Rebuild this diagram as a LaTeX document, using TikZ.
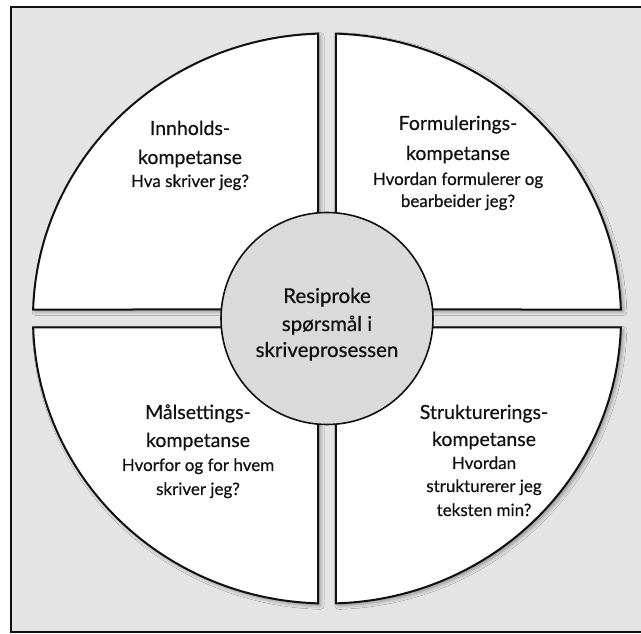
\documentclass[tikz,border=0pt]{standalone}
\usepackage{fontspec}
\setmainfont{Lato}[FakeBold=0.5]
\usetikzlibrary{shadows.blur}
\definecolor{panelgray}{HTML}{E4E4E4}
\definecolor{hubgray}{HTML}{DADADA}
\definecolor{ink}{HTML}{111111}
\tikzset{
  frame/.style={draw=ink, line width=2pt, fill=panelgray},
  quad/.style={draw=ink, line width=2pt, fill=white,
    blur shadow={shadow xshift=2.5pt, shadow yshift=-2.5pt,
                 shadow blur radius=3.5pt, shadow opacity=35}},
  hub/.style={draw=ink, line width=1.6pt, fill=hubgray, circle,
    minimum size=212pt, inner sep=0pt},
  head/.style={anchor=base, inner sep=0pt, text=ink,
    font=\fontsize{19.5}{23}\selectfont},
  ask/.style={anchor=base, inner sep=0pt, text=ink,
    font=\fontsize{17}{20}\selectfont},
  hubtext/.style={anchor=base, inner sep=0pt, text=ink,
    font=\fontsize{20.5}{24}\selectfont},
}
\begin{document}
\begin{tikzpicture}[x=1pt,y=1pt]
  \useasboundingbox (0,0) rectangle (641,633);
  \begin{scope}
    \clip (0,0) rectangle (641,633);
    \draw[frame] (10.5,1.5) rectangle (660,625.5);
  \end{scope}

  % four quarter panels of the ellipse, pulled apart by a cross-shaped gap
  \def\cx{327}\def\cy{314.5}\def\rx{294}\def\ry{285}
  \draw[quad] (336,323.5) -- ({\cx+\rx*cos(88.25)},{\cy+\ry*sin(88.25)})
    arc[start angle=88.25, end angle=1.81, x radius=\rx, y radius=\ry] -- cycle;
  \draw[quad] (318,323.5) -- ({\cx+\rx*cos(91.75)},{\cy+\ry*sin(91.75)})
    arc[start angle=91.75, end angle=178.19, x radius=\rx, y radius=\ry] -- cycle;
  \draw[quad] (318,305.5) -- ({\cx+\rx*cos(181.81)},{\cy+\ry*sin(181.81)})
    arc[start angle=181.81, end angle=268.25, x radius=\rx, y radius=\ry] -- cycle;
  \draw[quad] (336,305.5) -- ({\cx+\rx*cos(271.75)},{\cy+\ry*sin(271.75)})
    arc[start angle=271.75, end angle=358.19, x radius=\rx, y radius=\ry] -- cycle;

  % central hub
  \node[hub] (hub) at (327,314.5) {};
  \node[hubtext] (h1) at (327,330) {Resiproke};
  \node[hubtext] (h2) at (327,302) {spørsmål i};
  \node[hubtext] (h3) at (327,276) {skriveprosessen};

  % top left
  \node[head] (tl1) at (190,498) {Innholds-};
  \node[head] (tl2) at (190,469) {kompetanse};
  \node[ask]  (tl3) at (190,446) {Hva skriver jeg?};

  % top right
  \node[head] (tr1) at (458,503) {Formulerings-};
  \node[head] (tr2) at (458,473) {kompetanse};
  \node[ask]  (tr3) at (458,448) {Hvordan formulerer og};
  \node[ask]  (tr4) at (458,426) {bearbeider jeg?};

  % bottom left
  \node[head] (bl1) at (198,214) {Målsettings-};
  \node[head] (bl2) at (198,186) {kompetanse};
  \node[ask]  (bl3) at (198,162) {Hvorfor og for hvem};
  \node[ask]  (bl4) at (198,138) {skriver jeg?};

  % bottom right
  \node[head] (br1) at (484,214) {Strukturerings-};
  \node[head] (br2) at (484,187) {kompetanse};
  \node[ask]  (br3) at (484,164) {Hvordan};
  \node[ask]  (br4) at (484,141) {strukturerer jeg};
  \node[ask]  (br5) at (484,117) {teksten min?};
\end{tikzpicture}
\end{document}
